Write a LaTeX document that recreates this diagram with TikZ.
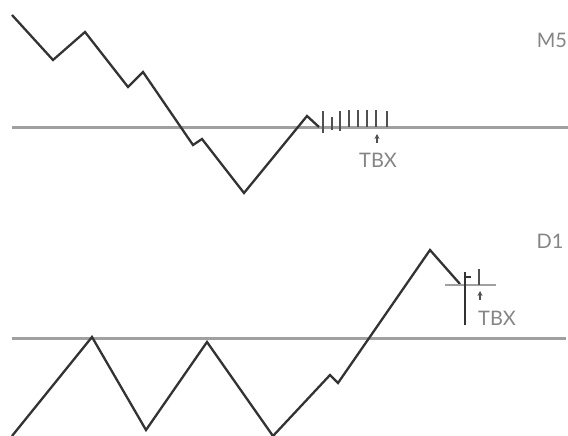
\documentclass[tikz,border=0pt]{standalone}
\usepackage{fontspec}
\setmainfont{Lato}
\usetikzlibrary{arrows.meta}
\definecolor{pricec}{HTML}{333333}
\definecolor{levelc}{HTML}{A0A0A0}
\definecolor{textc}{HTML}{858585}
\definecolor{tickc}{HTML}{505050}
\tikzset{
  price/.style={draw=pricec, line width=2.3pt, line join=miter},
  level/.style={draw=levelc, line width=3pt},
  shortlevel/.style={draw=levelc, line width=2.2pt},
  candle/.style={draw=tickc, line width=2.2pt},
  lbl/.style={text=textc, font=\fontsize{20}{20}\selectfont, inner sep=0pt},
  uparrow/.style={draw=tickc, line width=1.6pt, -{Stealth[length=5pt,width=5pt]}}
}
\begin{document}
\begin{tikzpicture}[x=1pt,y=-1pt]
\useasboundingbox[fill=white] (0,0) rectangle (568,436);
% ---------- M5 panel ----------
\draw[level] (12,127) -- (568,127);
\draw[price] (12,15) -- (53,60) -- (85,32) -- (128,87) -- (143,72) -- (193,145)
  -- (202,139) -- (244,193) -- (307,116) -- (319,127);
\foreach \x/\a/\b in {323/111/133, 332/117/130, 340/111/131, 349/110/127,
                      358/110/127, 367/110/127, 376/110/127, 387/111/127}
  \draw[candle] (\x,\a) -- (\x,\b);
\draw[uparrow] (377,143) -- (377,134);
\node[lbl] (tbxa) at (378,160) {TBX};
\node[lbl] (mfive) at (552,40) {M5};
% ---------- D1 panel ----------
\draw[level] (12,338) -- (566,338);
\draw[price] (12,436) -- (92,337) -- (146,430) -- (207,342) -- (273,436)
  -- (330,375) -- (338,383) -- (430,250) -- (460,284);
\draw[shortlevel] (445,285) -- (496,285);
\draw[price] (465,272) -- (465,325);
\draw[price] (465,277) -- (471,277);
\draw[candle] (479,269) -- (479,285);
\draw[uparrow] (480,300) -- (480,291);
\node[lbl] (tbxb) at (497,318) {TBX};
\node[lbl] (done) at (550,241) {D1};
\end{tikzpicture}
\end{document}
